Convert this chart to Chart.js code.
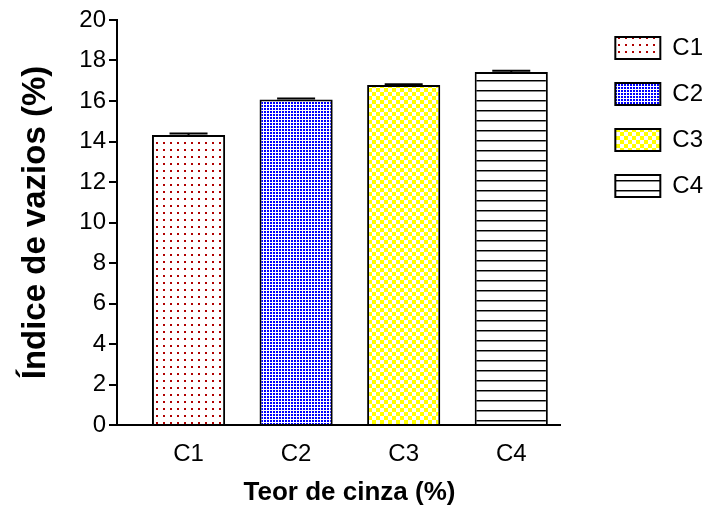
<!DOCTYPE html>
<html>
<head>
<meta charset="utf-8">
<title>Índice de vazios</title>
<script src="https://cdn.jsdelivr.net/npm/chart.js@4/dist/chart.umd.min.js"></script>
<style>
    html, body { margin: 0; padding: 0; background: #fff; }
    #wrap { width: 705px; height: 513px; }
</style>
</head>
<body>
<div id="wrap"><canvas id="chart"></canvas></div>
<script>
// Void index per ash content group, bars with small error caps.
const categories = ['C1', 'C2', 'C3', 'C4'];
const values = [14.32, 16.07, 16.79, 17.43];
const errors = [0.07, 0.05, 0.04, 0.07];
const Y_MIN = 0;
const Y_MAX = 20;
const Y_STEP = 2;
const X_TITLE = 'Teor de cinza (%)';
const Y_TITLE = 'Índice de vazios (%)';

const FONT = "'Liberation Sans', Arial, Helvetica, sans-serif";

const canvas = document.getElementById('chart');
const ctx = canvas.getContext('2d');

function makePattern(size, draw) {
    const tile = document.createElement('canvas');
    tile.width = size;
    tile.height = size;
    const g = tile.getContext('2d');
    g.fillStyle = '#ffffff';
    g.fillRect(0, 0, size, size);
    draw(g);
    return ctx.createPattern(tile, 'repeat');
}

// one fill per group, like the hatch styles of the original
const fills = [
    makePattern(7, (g) => { g.fillStyle = '#b00000'; g.fillRect(2, 2, 2, 2); }),
    makePattern(3, (g) => { g.fillStyle = '#0000ff'; g.fillRect(0, 0, 2, 2); }),
    makePattern(8, (g) => {
        g.fillStyle = '#ffff00';
        g.fillRect(0, 0, 4, 4);
        g.fillRect(4, 4, 4, 4);
    }),
    makePattern(10, (g) => {
        g.fillStyle = '#000000';
        g.fillRect(0, 0, 10, 1);
        g.fillStyle = '#888888';
        g.fillRect(0, 1, 10, 1);
    }),
];

const errorBars = {
    id: 'errorBars',
    afterDatasetsDraw(chart) {
        const y = chart.scales.y;
        const c = chart.ctx;
        c.save();
        c.strokeStyle = '#000';
        c.lineWidth = 2;
        chart.data.datasets.forEach((ds, i) => {
            const bar = chart.getDatasetMeta(i).data[0];
            if (!bar) return;
            const top = y.getPixelForValue(values[i] + errors[i]);
            c.beginPath();
            c.moveTo(bar.x, bar.y);
            c.lineTo(bar.x, top);
            c.moveTo(bar.x - 19, top);
            c.lineTo(bar.x + 19, top);
            c.stroke();
        });
        c.restore();
    },
};

// the legend sits a bit away from the plot, top right
const legendPlace = {
    id: 'legendPlace',
    afterLayout(chart) {
        const lg = chart.legend;
        if (!lg) return;
        const w = lg.right - lg.left;
        lg.left = chart.chartArea.right + 33;
        lg.right = lg.left + w;
        lg.top = 14;
    },
};

new Chart(canvas, {
    type: 'bar',
    data: {
        datasets: categories.map((name, i) => ({
            label: name,
            data: [{ x: i + 1, y: values[i] }],
            backgroundColor: fills[i],
            borderColor: '#000',
            borderWidth: 2,
            grouped: false,
            categoryPercentage: 1,
            barPercentage: 0.68,
        })),
    },
    options: {
        responsive: true,
        maintainAspectRatio: false,
        animation: false,
        devicePixelRatio: 1,
        layout: { padding: { top: 20, left: 12, bottom: 1, right: 25 } },
        plugins: {
            tooltip: { enabled: false },
            legend: {
                position: 'right',
                align: 'start',
                labels: {
                    boxWidth: 45,
                    boxHeight: 22,
                    padding: 22,
                    color: '#000',
                    font: { family: FONT, size: 24 },
                },
            },
        },
        scales: {
            x: {
                type: 'linear',
                offset: false,
                min: 0.335,
                max: 4.456,
                afterBuildTicks: (scale) => {
                    scale.ticks = categories.map((_, i) => ({ value: i + 1 }));
                },
                afterFit: (scale) => { scale.height = 87; },
                ticks: {
                    autoSkip: false,
                    maxRotation: 0,
                    padding: 15,
                    color: '#000',
                    font: { family: FONT, size: 24 },
                    callback: (v) => categories[v - 1],
                },
                grid: { display: false, drawTicks: false, offset: false },
                border: { display: true, color: '#000', width: 2 },
                title: {
                    display: true,
                    // leading spaces nudge the centred title right, as in the original
                    text: '   ' + X_TITLE,
                    color: '#000',
                    font: { family: FONT, size: 26, weight: 'bold' },
                },
            },
            y: {
                min: Y_MIN,
                max: Y_MAX,
                afterFit: (scale) => { scale.width = 105; },
                ticks: {
                    stepSize: Y_STEP,
                    padding: 3,
                    color: '#000',
                    font: { family: FONT, size: 24 },
                },
                grid: {
                    drawOnChartArea: false,
                    drawTicks: true,
                    tickLength: 8,
                    color: '#000',
                    lineWidth: 2,
                },
                border: { display: true, color: '#000', width: 2 },
                title: {
                    display: true,
                    text: Y_TITLE,
                    color: '#000',
                    font: { family: FONT, size: 33, weight: 'bold' },
                },
            },
        },
    },
    plugins: [errorBars, legendPlace],
});
</script>
</body>
</html>
